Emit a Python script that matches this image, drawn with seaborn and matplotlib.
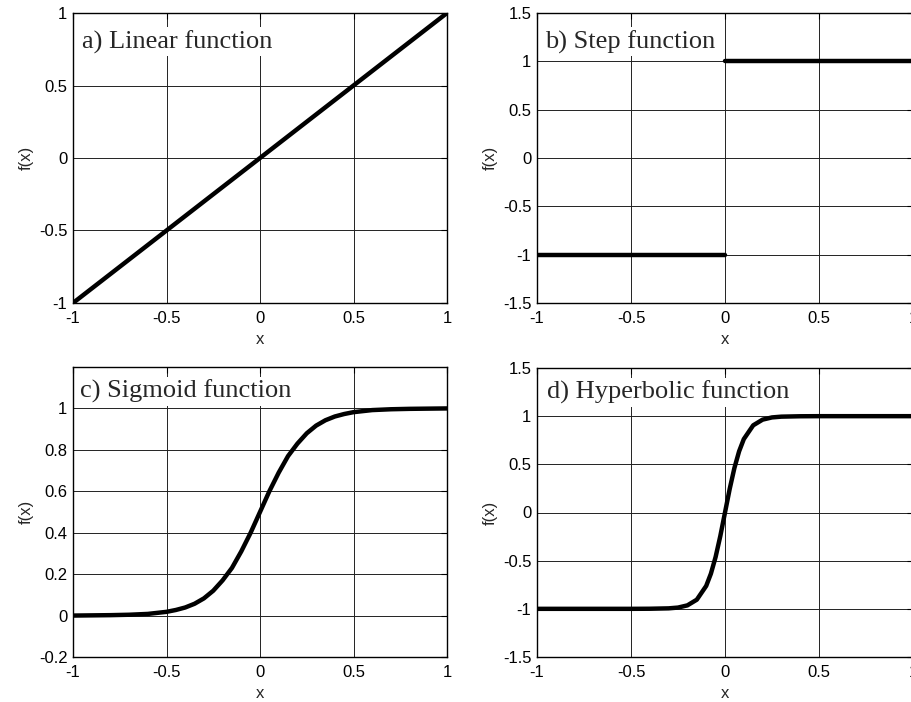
import matplotlib
matplotlib.use("Agg")
import matplotlib.pyplot as plt
import seaborn as sns

# values
lin_x = [-1.0, 1.0]
lin_y = [-1.0, 1.0]

# step drawn as two separate pieces (no vertical jump in the reference)
step_x = [-1.0, 0.0, 0.0, 1.0]
step_y = [-1.0, -1.0, 1.0, 1.0]
step_piece = [0, 0, 1, 1]

sig_x = [-1.0, -0.9, -0.8, -0.7, -0.6, -0.5, -0.45, -0.4, -0.35, -0.3, -0.25,
         -0.2, -0.15, -0.1, -0.05, 0.0, 0.05, 0.1, 0.15, 0.2, 0.25, 0.3,
         0.35, 0.4, 0.45, 0.5, 0.6, 0.7, 0.8, 0.9, 1.0]
sig_y = [0.000, 0.001, 0.002, 0.004, 0.008, 0.018, 0.027, 0.039, 0.057, 0.083, 0.12,
         0.17, 0.23, 0.31, 0.40, 0.50, 0.60, 0.69, 0.77, 0.83, 0.88, 0.917,
         0.943, 0.961, 0.973, 0.982, 0.992, 0.996, 0.998, 0.999, 1.000]

tanh_x = [-1.0, -0.5, -0.4, -0.3, -0.25, -0.2, -0.15, -0.1, -0.075, -0.05, -0.025,
          0.0, 0.025, 0.05, 0.075, 0.1, 0.15, 0.2, 0.25, 0.3, 0.4, 0.5, 1.0]
tanh_y = [-1.0, -1.0, -0.999, -0.995, -0.987, -0.964, -0.905, -0.762, -0.635, -0.462, -0.245,
          0.0, 0.245, 0.462, 0.635, 0.762, 0.905, 0.964, 0.987, 0.995, 0.999, 1.0, 1.0]

titles = ["a) Linear function", "b) Step function", "c) Sigmoid function", "d) Hyperbolic function"]
x_ticks = [-1, -0.5, 0, 0.5, 1]
x_ticklabels = ["-1", "-0.5", "0", "0.5", "1"]
yticks_a = [-1, -0.5, 0, 0.5, 1]
yticks_b = [-1.5, -1, -0.5, 0, 0.5, 1, 1.5]
yticks_c = [-0.2, 0, 0.2, 0.4, 0.6, 0.8, 1]

sns.set_style("white")
plt.rcParams['font.family'] = ['Liberation Sans', 'DejaVu Sans']

fig = plt.figure(figsize=(9.11, 7.02), dpi=100)
positions = [
    [73 / 911, 399 / 702, 374 / 911, 290 / 702],
    [537 / 911, 399 / 702, 376 / 911, 290 / 702],
    [73 / 911, 45 / 702, 374 / 911, 290 / 702],
    [537 / 911, 45 / 702, 376 / 911, 289 / 702],
]
series = [(lin_x, lin_y, None), (step_x, step_y, step_piece),
          (sig_x, sig_y, None), (tanh_x, tanh_y, None)]
ylims = [(-1, 1), (-1.5, 1.5), (-0.2, 1.2), (-1.5, 1.5)]
yticks = [yticks_a, yticks_b, yticks_c, yticks_b]
text_pos = [(0.024, 0.879), (0.021, 0.879), (0.019, 0.893), (0.027, 0.893)]

for i in range(4):
    ax = fig.add_axes(positions[i])
    xs, ys, pieces = series[i]
    sns.lineplot(x=xs, y=ys, units=pieces, ax=ax, color="black", linewidth=3.2,
                 estimator=None, sort=False, zorder=5)
    ax.set_xlim(-1, 1)
    ax.set_ylim(*ylims[i])
    ax.set_xticks(x_ticks)
    ax.set_xticklabels(x_ticklabels)
    yt = yticks[i]
    ax.set_yticks(yt)
    ax.set_yticklabels([("%g" % v) for v in yt])
    ax.grid(True, color="#222222", linewidth=0.7)
    ax.set_axisbelow(True)
    ax.tick_params(direction="in", length=4, top=True, right=True,
                   labelsize=12, pad=4, colors="black")
    ax.tick_params(axis="x", pad=6)
    for s in ax.spines.values():
        s.set_color("black")
        s.set_linewidth(1.0)
    ax.set_xlabel("x", fontsize=12, labelpad=4)
    ax.set_ylabel("f(x)", fontsize=12, labelpad=4)
    ax.text(text_pos[i][0], text_pos[i][1], titles[i], transform=ax.transAxes,
            family="Liberation Serif", fontsize=19, va="baseline", ha="left",
            zorder=4, bbox=dict(facecolor="white", edgecolor="none", pad=2))

fig.savefig("out.png", dpi=100)
